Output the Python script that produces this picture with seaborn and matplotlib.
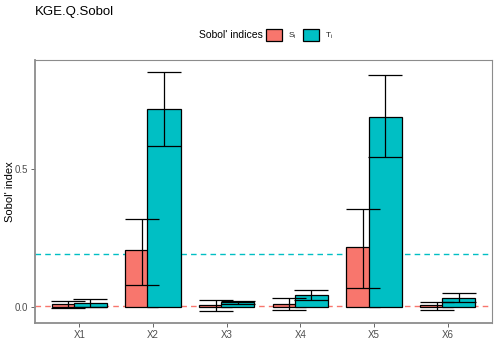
import matplotlib
matplotlib.use("Agg")
import matplotlib.pyplot as plt
import numpy as np
import pandas as pd
import seaborn as sns

# ── data ──────────────────────────────────────────────────────────
params = ["X1", "X2", "X3", "X4", "X5", "X6"]
index_names = ["Si", "Ti"]
index_labels = [r"S$_\mathregular{i}$", r"T$_\mathregular{i}$"]

si = [0.011, 0.207, 0.005, 0.008, 0.217, 0.005]
si_low = [-0.005, 0.079, -0.015, -0.012, 0.067, -0.012]
si_high = [0.020, 0.319, 0.026, 0.030, 0.352, 0.017]

ti = [0.013, 0.716, 0.016, 0.043, 0.688, 0.033]
ti_low = [0.000, 0.581, 0.008, 0.024, 0.543, 0.017]
ti_high = [0.029, 0.850, 0.020, 0.060, 0.840, 0.051]

si_dummy = 0.002   # dashed threshold lines
ti_dummy = 0.192

yticks = [0.0, 0.5]

colors = ["#F8766D", "#00BFC4"]

df = pd.DataFrame({
    "param": params * 2,
    "index": [index_names[0]] * len(params) + [index_names[1]] * len(params),
    "value": si + ti,
    "low": si_low + ti_low,
    "high": si_high + ti_high,
})

# ── figure ────────────────────────────────────────────────────────
sns.set_theme(style="white")
plt.rcParams["font.family"] = ["Liberation Sans", "DejaVu Sans"]

fig = plt.figure(figsize=(4.98, 3.55), dpi=100)
ax = fig.add_axes([35 / 498, 1 - 323 / 355, 457 / 498, 263 / 355])

ax.axhline(si_dummy, color=colors[0], linestyle=(0, (4, 3)), linewidth=1.0, zorder=0)
ax.axhline(ti_dummy, color=colors[1], linestyle=(0, (4, 3)), linewidth=1.0, zorder=0)

sns.barplot(
    data=df, x="param", y="value", hue="index",
    order=params, hue_order=index_names,
    palette=colors, width=0.6, gap=-0.5,
    edgecolor="black", linewidth=0.9,
    errorbar=None, legend=False, saturation=1, ax=ax,
)

ax.set_xlim(-0.6, len(params) - 0.4)
ax.set_ylim(-0.059, 0.893)

# error bars on top of bars, caps as wide as bars
bar_w = ax.patches[0].get_width()
ax_w_px = ax.get_position().width * fig.get_figwidth() * fig.dpi
cap_pt = bar_w * ax_w_px / (ax.get_xlim()[1] - ax.get_xlim()[0]) * 72 / fig.dpi / 2

for i, name in enumerate(index_names):
    sub = df[df["index"] == name]
    patches = ax.patches[i * len(params):(i + 1) * len(params)]
    xs = [p.get_x() + p.get_width() / 2 for p in patches]
    mid = (sub["low"].values + sub["high"].values) / 2
    ax.errorbar(
        xs, mid,
        yerr=[mid - sub["low"].values, sub["high"].values - mid],
        fmt="none", ecolor="black", elinewidth=0.9,
        capsize=cap_pt, capthick=0.9, zorder=5,
    )

ax.set_yticks(yticks)
ax.set_yticklabels([f"{t:.1f}" for t in yticks])
ax.set_xlabel("")
ax.set_ylabel("Sobol' index", fontsize=8, color="black")
ax.yaxis.set_label_coords(-20 / 457, 0.5)
ax.tick_params(axis="both", labelsize=7, labelcolor="#4D4D4D",
               color="#4D4D4D", length=3, width=0.6, left=True, bottom=True,
               pad=2)

for side in ["left", "bottom"]:
    ax.spines[side].set_color("#8C8C8C")
    ax.spines[side].set_linewidth(1.3)
for side in ["top", "right"]:
    ax.spines[side].set_color("#8C8C8C")
    ax.spines[side].set_linewidth(0.8)

# title
fig.text(35 / 498, 1 - 12 / 355, "KGE.Q.Sobol", fontsize=9.5,
         ha="left", va="center", color="black")

# legend
handles = [plt.Rectangle((0, 0), 1, 1, facecolor=c, edgecolor="black", linewidth=0.9)
           for c in colors]
fig.text(263 / 498, 1 - 35 / 355, "Sobol' indices", fontsize=7.5,
         ha="right", va="center", color="black")
fig.legend(
    handles, index_labels, loc="center left",
    bbox_to_anchor=(266 / 498, 1 - 35 / 355), ncol=2, frameon=False,
    fontsize=6, handlelength=1.9, handleheight=1.9,
    handletextpad=0.8, columnspacing=0.7, borderaxespad=0, borderpad=0,
)

fig.savefig("out.png", dpi=100, facecolor="white")
plt.close(fig)
